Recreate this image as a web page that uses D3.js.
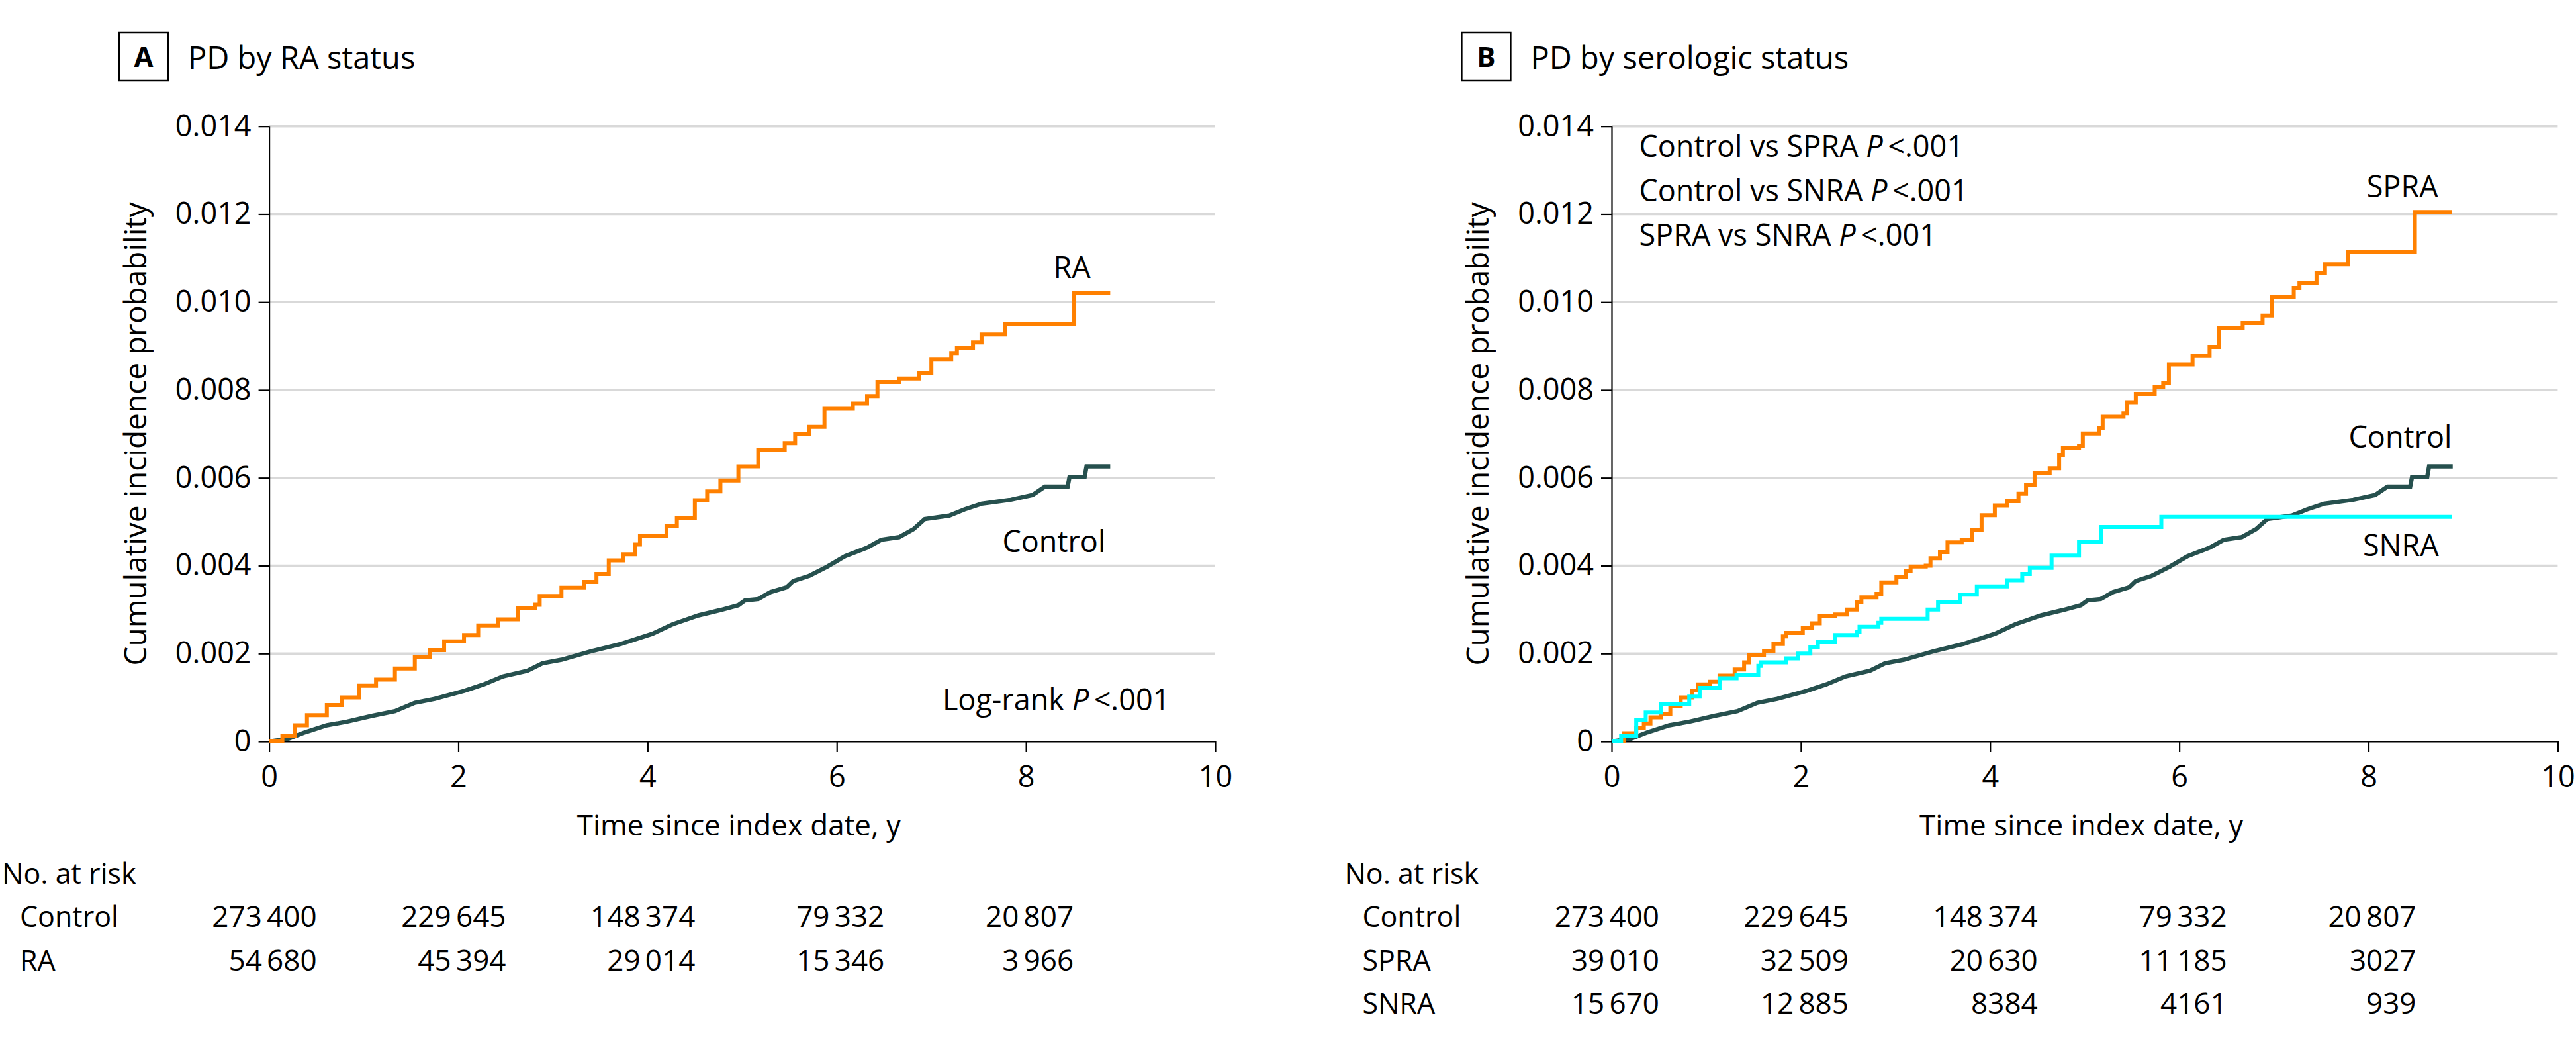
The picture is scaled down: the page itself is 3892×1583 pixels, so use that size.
<!DOCTYPE html>
<html><head><meta charset="utf-8">
<script src="https://cdn.jsdelivr.net/npm/d3@7"></script>
<style>
body{margin:0;background:#fff}
svg{display:block}
text{font-family:"Open Sans","Noto Sans",sans-serif;fill:#000}
</style>
</head><body>
<svg id="chart" width="3892" height="1583"></svg>
<script>
// ---------- data ----------
const timeTicks = [0, 2, 4, 6, 8, 10];
const probTicks = [0, 0.002, 0.004, 0.006, 0.008, 0.010, 0.012, 0.014];
const riskTimes = [0, 2, 4, 6, 8];

const controlCurve = [[0,0],[0.2,0.00006],[0.38,0.00021],[0.61,0.00037],[0.82,0.00045],[1.08,0.00058],[1.33,0.00069],[1.54,0.00088],[1.75,0.00097],[2.06,0.00115],[2.27,0.0013],[2.47,0.00148],[2.73,0.00161],[2.89,0.00178],[3.09,0.00186],[3.4,0.00205],[3.72,0.00222],[4.05,0.00245],[4.27,0.00267],[4.54,0.00287],[4.77,0.00299],[4.96,0.0031],[5.03,0.00321],[5.17,0.00324],[5.3,0.0034],[5.47,0.00351],[5.54,0.00365],[5.71,0.00377],[5.9,0.00398],[6.09,0.00422],[6.32,0.00441],[6.47,0.00459],[6.66,0.00465],[6.81,0.00483],[6.93,0.00506],[7.19,0.00514],[7.35,0.00528],[7.53,0.00541],[7.84,0.0055],[8.07,0.00561],[8.2,0.0058],[8.44,0.0058],[8.46,0.00602],[8.62,0.00602],[8.64,0.00626],[8.89,0.00626]];

const raCurve = [[0,0],[0.14,0.00013],[0.27,0.00037],[0.40,0.0006],[0.61,0.00083],[0.77,0.001],[0.95,0.00127],[1.13,0.00141],[1.33,0.00166],[1.54,0.00192],[1.70,0.00208],[1.85,0.00228],[2.06,0.00242],[2.21,0.00264],[2.42,0.00278],[2.63,0.00303],[2.81,0.00311],[2.86,0.00331],[3.09,0.0035],[3.33,0.00363],[3.46,0.00381],[3.59,0.00412],[3.74,0.00426],[3.87,0.00448],[3.92,0.00468],[4.20,0.00491],[4.31,0.00508],[4.50,0.00549],[4.63,0.00569],[4.77,0.00594],[4.96,0.00626],[5.17,0.00663],[5.45,0.00679],[5.56,0.007],[5.71,0.00716],[5.87,0.00757],[6.17,0.00769],[6.32,0.00786],[6.43,0.00818],[6.66,0.00826],[6.87,0.00839],[7.0,0.00869],[7.21,0.00884],[7.27,0.00896],[7.44,0.00908],[7.53,0.00926],[7.78,0.00949],[8.51,0.0102],[8.89,0.0102]];

const spraCurve = [[0,0],[0.13,0.00019],[0.26,0.0003],[0.34,0.00041],[0.41,0.00055],[0.52,0.00063],[0.62,0.0008],[0.73,0.001],[0.85,0.00116],[0.91,0.0013],[1.04,0.00136],[1.14,0.0015],[1.30,0.00164],[1.40,0.0018],[1.45,0.00197],[1.61,0.00205],[1.71,0.00222],[1.81,0.00239],[1.84,0.00247],[2.02,0.00258],[2.12,0.00269],[2.20,0.00285],[2.36,0.00289],[2.49,0.003],[2.59,0.00317],[2.64,0.00328],[2.80,0.00336],[2.85,0.00362],[3.01,0.00375],[3.11,0.00387],[3.16,0.00398],[3.32,0.004],[3.37,0.00417],[3.47,0.00431],[3.55,0.00453],[3.70,0.00459],[3.81,0.00481],[3.91,0.00515],[4.05,0.00537],[4.18,0.00547],[4.30,0.00564],[4.38,0.00584],[4.47,0.0061],[4.63,0.00622],[4.73,0.00651],[4.77,0.00668],[4.94,0.00672],[4.98,0.00701],[5.15,0.00714],[5.19,0.00739],[5.41,0.00747],[5.45,0.00772],[5.54,0.00791],[5.74,0.00806],[5.83,0.00816],[5.89,0.00858],[6.14,0.00877],[6.32,0.00898],[6.42,0.0094],[6.67,0.00952],[6.88,0.00969],[6.98,0.01011],[7.21,0.01032],[7.27,0.01044],[7.45,0.01065],[7.54,0.01086],[7.78,0.01115],[8.49,0.01205],[8.88,0.01205]];

const snraCurve = [[0,0],[0.10,0.00013],[0.26,0.00049],[0.36,0.00066],[0.52,0.00086],[0.82,0.00102],[0.93,0.00122],[1.14,0.00144],[1.32,0.00152],[1.55,0.00172],[1.58,0.0018],[1.84,0.00189],[1.97,0.002],[2.10,0.00214],[2.18,0.00226],[2.36,0.00242],[2.59,0.0025],[2.62,0.00261],[2.82,0.0027],[2.85,0.00279],[3.34,0.003],[3.45,0.00317],[3.68,0.00334],[3.86,0.00353],[4.18,0.00367],[4.34,0.00381],[4.42,0.00395],[4.65,0.00423],[4.94,0.00455],[5.17,0.00488],[5.81,0.00511],[8.88,0.00511]];

const riskControl = ["273\u2009400","229\u2009645","148\u2009374","79\u2009332","20\u2009807"];
const riskRA      = ["54\u2009680","45\u2009394","29\u2009014","15\u2009346","3\u2009966"];
const riskSPRA    = ["39\u2009010","32\u2009509","20\u2009630","11\u2009185","3027"];
const riskSNRA    = ["15\u2009670","12\u2009885","8384","4161","939"];

// ---------- styles ----------
const C_ORANGE = "#FF8000", C_DARK = "#26504E", C_CYAN = "#00FFFF";
const FS = 45;

const svg = d3.select("#chart");

const panels = [
  { dx: 0, letter: "A", title: "PD by RA status",
    series: [
      {data: controlCurve, color: C_DARK, w: 6.5, step: false},
      {data: raCurve, color: C_ORANGE, w: 6, step: true}
    ],
    labels: [
      {text: "RA", t: 8.29, v: 0.01054},
      {text: "Control", t: 7.75, v: 0.00431}
    ],
    pText: [{pre: "Log-rank ", t: 9.52, v: 0.00071, anchor: "end"}],
    risk: [["Control", riskControl], ["RA", riskRA]]
  },
  { dx: 2028.4, letter: "B", title: "PD by serologic status",
    series: [
      {data: controlCurve, color: C_DARK, w: 6.5, step: false},
      {data: spraCurve, color: C_ORANGE, w: 6, step: true},
      {data: snraCurve, color: C_CYAN, w: 6, step: true}
    ],
    labels: [
      {text: "SPRA", t: 7.98, v: 0.01239},
      {text: "Control", t: 7.79, v: 0.00669},
      {text: "SNRA", t: 7.94, v: 0.00422}
    ],
    pText: [
      {pre: "Control vs SPRA ", t: 0.29, v: 0.01331, anchor: "start"},
      {pre: "Control vs SNRA ", t: 0.29, v: 0.01230, anchor: "start"},
      {pre: "SPRA vs SNRA ", t: 0.29, v: 0.01129, anchor: "start"}
    ],
    risk: [["Control", riskControl], ["SPRA", riskSPRA], ["SNRA", riskSNRA]]
  }
];

panels.forEach(p => {
  const g = svg.append("g");
  const x = d3.scaleLinear().domain([0, 10]).range([406.6 + p.dx, 1836 + p.dx]);
  const y = d3.scaleLinear().domain([0, 0.014]).range([1120, 190.7]);

  // title box
  g.append("rect").attr("x", 180 + p.dx).attr("y", 49).attr("width", 74).attr("height", 73)
    .attr("fill", "none").attr("stroke", "#000").attr("stroke-width", 2.5);
  g.append("text").attr("x", 217 + p.dx).attr("y", 101).attr("text-anchor", "middle")
    .attr("font-size", 42).attr("font-weight", 700).text(p.letter);
  g.append("text").attr("x", 284 + p.dx).attr("y", 104).attr("font-size", 47).text(p.title);

  // gridlines
  g.append("g").selectAll("line").data(probTicks.filter(d => d > 0)).join("line")
    .attr("x1", x(0)).attr("x2", x(10))
    .attr("y1", d => y(d)).attr("y2", d => y(d))
    .attr("stroke", "#d9d9d9").attr("stroke-width", 3.5);

  // axes
  const xAxis = g.append("g").attr("transform", `translate(0,${y(0)})`)
    .call(d3.axisBottom(x).tickValues(timeTicks).tickFormat(d3.format("d"))
      .tickSize(16).tickSizeOuter(0).tickPadding(21));
  const yAxis = g.append("g").attr("transform", `translate(${x(0)},0)`)
    .call(d3.axisLeft(y).tickValues(probTicks).tickFormat(d => d === 0 ? "0" : d3.format(".3f")(d))
      .tickSize(16).tickSizeOuter(0).tickPadding(11));
  [xAxis, yAxis].forEach(a => {
    a.selectAll("path.domain").attr("stroke", "#000").attr("stroke-width", 2.2);
    a.selectAll(".tick line").attr("stroke", "#000").attr("stroke-width", 2.2);
    a.selectAll(".tick text").attr("font-size", FS).attr("font-family", '"Open Sans","Noto Sans",sans-serif').attr("fill", "#000");
  });

  // axis titles
  g.append("text").attr("transform", `translate(${221 + p.dx},${(y(0) + y(0.014)) / 2}) rotate(-90)`)
    .attr("text-anchor", "middle").attr("font-size", 46).text("Cumulative incidence probability");
  g.append("text").attr("x", (x(0) + x(10)) / 2 - 5).attr("y", 1262)
    .attr("text-anchor", "middle").attr("font-size", 44).text("Time since index date, y");

  // curves
  p.series.forEach(s => {
    const line = d3.line().x(d => x(d[0])).y(d => y(d[1]))
      .curve(s.step ? d3.curveStepAfter : d3.curveLinear);
    g.append("path").datum(s.data).attr("d", line)
      .attr("fill", "none").attr("stroke", s.color).attr("stroke-width", s.w)
      .attr("stroke-linejoin", "miter").attr("stroke-linecap", "butt");
  });

  // curve labels
  p.labels.forEach(l => {
    g.append("text").attr("x", x(l.t)).attr("y", y(l.v)).attr("font-size", FS).text(l.text);
  });
  p.pText.forEach(l => {
    const t = g.append("text").attr("x", x(l.t)).attr("y", y(l.v)).attr("font-size", FS)
      .attr("text-anchor", l.anchor);
    t.append("tspan").text(l.pre);
    t.append("tspan").attr("font-style", "italic").text("P");
    t.append("tspan").text("\u2009<.001");
  });

  // number at risk
  g.append("text").attr("x", 3 + p.dx).attr("y", 1335).attr("font-size", 43).text("No. at risk");
  p.risk.forEach((r, i) => {
    const yy = 1400 + i * 65.5;
    g.append("text").attr("x", 30 + p.dx).attr("y", yy).attr("font-size", 43).text(r[0]);
    g.append("g").selectAll("text").data(r[1]).join("text")
      .attr("x", (d, j) => x(riskTimes[j]) + 72).attr("y", yy)
      .attr("text-anchor", "end").attr("font-size", 44).text(d => d);
  });
});
</script>
</body></html>
